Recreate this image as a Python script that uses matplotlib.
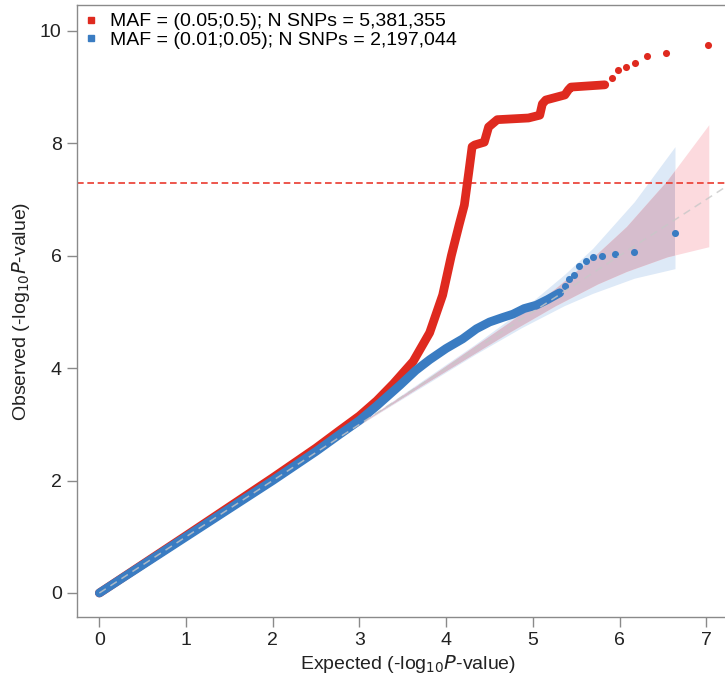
import numpy as np
import matplotlib
matplotlib.use('Agg')
import matplotlib.pyplot as plt
from matplotlib.lines import Line2D

plt.rcParams['font.family'] = ['Liberation Sans', 'DejaVu Sans']

# ---------------------------------------------------------------
#   values
# ---------------------------------------------------------------

labels = ['MAF = (0.05;0.5); N SNPs = 5,381,355',
          'MAF = (0.01;0.05); N SNPs = 2,197,044']

# common variants (red) - dense part and isolated top hits
red_x = [0, 1.0, 2.0, 2.5, 2.77, 3.0, 3.2, 3.39, 3.62, 3.81, 3.96, 4.06, 4.15, 4.21,
         4.26, 4.30, 4.33, 4.44, 4.49, 4.59, 4.95, 5.08, 5.11, 5.15, 5.37, 5.41, 5.44, 5.83]
red_y = [0, 1.02, 2.05, 2.58, 2.89, 3.15, 3.42, 3.72, 4.12, 4.63, 5.30, 6.0, 6.55, 6.9,
         7.47, 7.94, 7.97, 8.02, 8.29, 8.42, 8.45, 8.50, 8.70, 8.77, 8.86, 8.95, 9.00, 9.04]
red_tail_x = [5.91, 5.98, 6.07, 6.18, 6.32, 6.54, 7.02]
red_tail_y = [9.16, 9.31, 9.36, 9.43, 9.55, 9.61, 9.75]

# low frequency variants (blue)
blue_x = [0, 1.0, 2.0, 2.5, 2.77, 3.0, 3.2, 3.47, 3.65, 3.81, 4.0, 4.19, 4.35, 4.50,
          4.65, 4.77, 4.90, 5.04, 5.17, 5.31]
blue_y = [0, 1.0, 2.0, 2.52, 2.82, 3.07, 3.33, 3.70, 3.96, 4.15, 4.35, 4.52, 4.70, 4.82,
          4.90, 4.96, 5.06, 5.12, 5.22, 5.34]
blue_tail_x = [5.37, 5.42, 5.48, 5.53, 5.61, 5.69, 5.80, 5.95, 6.17, 6.64]
blue_tail_y = [5.46, 5.58, 5.66, 5.82, 5.91, 5.98, 6.00, 6.03, 6.06, 6.41]

# 95% bands around the expected line
red_band_x = [0, 3.0, 3.73, 4.73, 5.26, 5.75, 6.08, 6.55, 7.03]
red_band_lo = [0, 2.99, 3.70, 4.64, 5.11, 5.50, 5.72, 5.98, 6.16]
red_band_hi = [0, 3.01, 3.76, 4.82, 5.42, 6.05, 6.52, 7.34, 8.33]

blue_band_x = [0, 3.0, 3.34, 4.34, 4.87, 5.36, 5.69, 6.17, 6.64]
blue_band_lo = [0, 2.99, 3.31, 4.25, 4.72, 5.11, 5.33, 5.60, 5.77]
blue_band_hi = [0, 3.01, 3.37, 4.43, 5.03, 5.66, 6.13, 6.96, 7.94]

gw_line = 7.3

red = '#DF2A1F'
blue = '#3A7CC2'

fig = plt.figure(figsize=(7.25, 6.77), dpi=100)
ax = fig.add_axes([77 / 725, 60 / 677, 663 / 725, 612 / 677])

# bands: blue, pink, and the mauve overlap (pink band clipped to the blue one)
blue_band = ax.fill_between(blue_band_x, blue_band_lo, blue_band_hi, color='#dde9f7', lw=0, zorder=1)
ax.fill_between(red_band_x, red_band_lo, red_band_hi, color='#fcdade', lw=0, zorder=1.1)
overlap = ax.fill_between(red_band_x, red_band_lo, red_band_hi, color='#d6bdcd', lw=0, zorder=1.2)
overlap.set_clip_path(blue_band.get_paths()[0], transform=ax.transData)

ax.axhline(gw_line, color='#ea3a2f', lw=1.2, ls=(0, (4, 2.2)), zorder=2)

ax.plot(red_x, red_y, color=red, lw=6.3, solid_capstyle='round', solid_joinstyle='round', zorder=3)
ax.scatter(red_tail_x, red_tail_y, s=26, color=red, lw=0, zorder=3)
ax.plot(blue_x, blue_y, color=blue, lw=6.3, solid_capstyle='round', solid_joinstyle='round', zorder=4)
ax.scatter(blue_tail_x, blue_tail_y, s=26, color=blue, lw=0, zorder=4)

ax.plot([0, 7.5], [0, 7.5], color='#c8c8c8', lw=1.1, ls=(0, (5, 3.6)), alpha=0.8, zorder=5)

ax.set_xlim(-0.258, 7.39)
ax.set_ylim(-0.427, 10.46)
ax.set_xticks(range(0, 8))
ax.set_yticks(range(0, 11, 2))

for side in ['left', 'bottom', 'top', 'right']:
    ax.spines[side].set_color('#8a8a8a')
    ax.spines[side].set_linewidth(1.0)
ax.tick_params(direction='out', length=7, width=1, color='#8a8a8a', labelsize=14, pad=4, labelcolor='#222222')

ax.set_xlabel('Expected (-log$_{10}$$\\it{P}$-value)', fontsize=14, color='#222222', labelpad=3)
ax.set_ylabel('Observed (-log$_{10}$$\\it{P}$-value)', fontsize=14, color='#222222', labelpad=6)

handles = [Line2D([], [], ls='none', marker='s', markersize=4, color=red),
           Line2D([], [], ls='none', marker='s', markersize=4, color=blue)]
ax.legend(handles, labels, loc='upper left', bbox_to_anchor=(0.0, 1.0), frameon=False, fontsize=14,
          handlelength=0.6, handletextpad=0.7, labelspacing=0.05, borderaxespad=0.3, borderpad=0.1)

plt.savefig('out.png', dpi=100)
